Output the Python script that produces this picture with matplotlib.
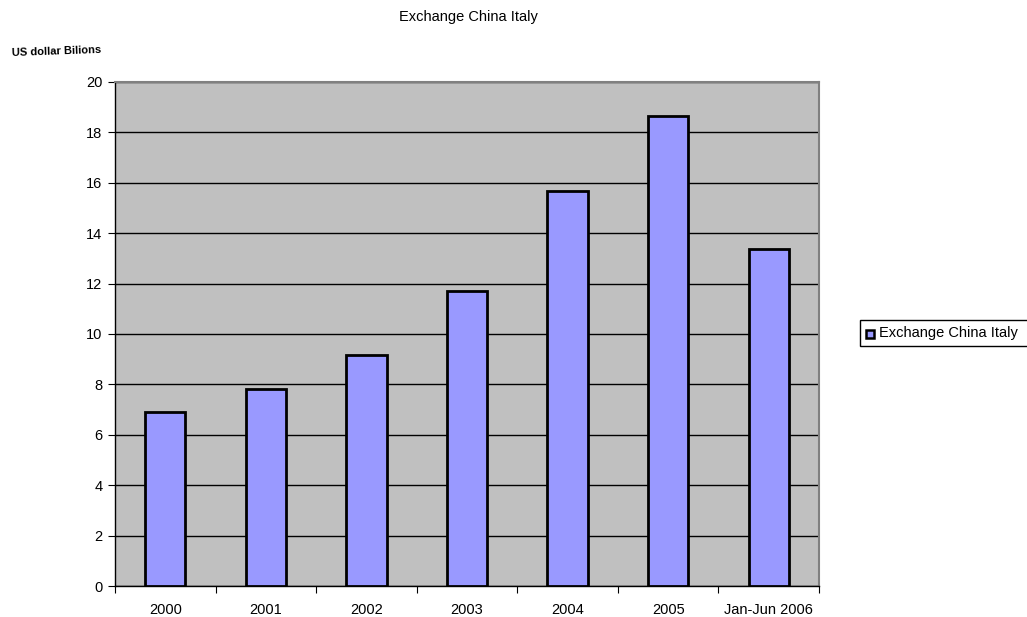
import matplotlib
matplotlib.use("Agg")
import matplotlib.pyplot as plt
from matplotlib.patches import Rectangle

categories = ["2000", "2001", "2002", "2003", "2004", "2005", "Jan-Jun 2006"]
values = [6.89, 7.80, 9.15, 11.72, 15.69, 18.65, 13.39]
series_name = "Exchange China Italy"
y_ticks = [0, 2, 4, 6, 8, 10, 12, 14, 16, 18, 20]

plt.rcParams["font.family"] = ["Liberation Sans", "DejaVu Sans"]

W, H = 1027, 617
fig = plt.figure(figsize=(W / 100, H / 100), dpi=100)
left, right, top, bottom = 115, 819, 82, 586
ax = fig.add_axes([left / W, 1 - bottom / H, (right - left) / W, (bottom - top) / H])

ax.set_facecolor("#c0c0c0")
x = list(range(len(categories)))
ax.bar(x, values, width=0.4, color="#9999ff", edgecolor="black", linewidth=2, zorder=3)

ax.set_xlim(-0.5, len(categories) - 0.5)
ax.set_ylim(0, 20)
ax.set_yticks(y_ticks)
ax.set_yticklabels([str(t) for t in y_ticks], fontsize=10.5)
ax.yaxis.grid(True, color="black", linewidth=1, zorder=1)
ax.set_axisbelow(True)

# category ticks sit between the bars; labels sit under bar centres
ax.set_xticks([i - 0.5 for i in range(len(categories) + 1)])
ax.set_xticklabels([])
ax.set_xticks(x, minor=True)
ax.set_xticklabels(categories, minor=True, fontsize=10.5)
ax.tick_params(axis="x", which="minor", length=0, pad=12)
ax.tick_params(axis="x", which="major", length=5, direction="out", color="black")
ax.tick_params(axis="y", length=5, direction="out", color="black", pad=4)

for side in ("left", "bottom"):
    ax.spines[side].set_color("black")
    ax.spines[side].set_linewidth(1)
for side in ("top", "right"):
    ax.spines[side].set_color("#808080")
    ax.spines[side].set_linewidth(1.5)

fig.text(468 / W, 1 - 17 / H, series_name, ha="center", va="center", fontsize=10.5)
fig.text(12 / W, 1 - 51 / H, "US dollar Bilions", ha="left", va="center",
         fontsize=8, fontweight="bold", rotation=2)

# legend box at the right edge
lx0, ly0, lx1, ly1 = 860, 320, 1030, 346
fig.patches.append(Rectangle((lx0 / W, 1 - ly1 / H), (lx1 - lx0) / W, (ly1 - ly0) / H,
                             transform=fig.transFigure, facecolor="white",
                             edgecolor="black", linewidth=1))
fig.patches.append(Rectangle((866 / W, 1 - 338 / H), 8 / W, 8 / H,
                             transform=fig.transFigure, facecolor="#9999ff",
                             edgecolor="black", linewidth=1.8))
fig.text(879 / W, 1 - 333 / H, series_name, ha="left", va="center", fontsize=10.5)

fig.savefig("out.png", dpi=100)
